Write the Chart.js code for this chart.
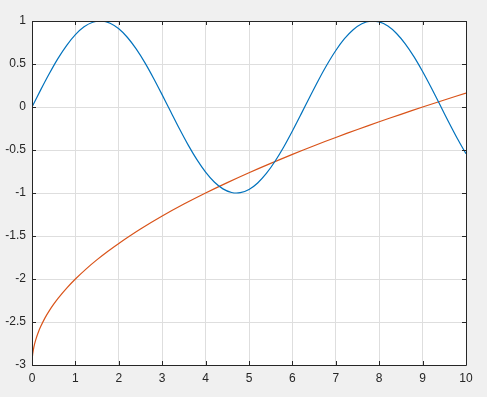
<!DOCTYPE html>
<html>
<head>
<meta charset="utf-8">
<script src="https://cdn.jsdelivr.net/npm/chart.js@4/dist/chart.umd.min.js"></script>
<style>
  html, body { margin: 0; padding: 0; background: #f0f0f0; }
  canvas { display: block; }
</style>
</head>
<body>
<canvas id="plot" width="487" height="397"></canvas>
<script>
// blue curve
let sineX = [0, 0.2, 0.4, 0.6, 0.8, 1.0, 1.2, 1.4, 1.6, 1.8, 2.0, 2.2, 2.4, 2.6, 2.8, 3.0,
  3.2, 3.4, 3.6, 3.8, 4.0, 4.2, 4.4, 4.6, 4.8, 5.0, 5.2, 5.4, 5.6, 5.8, 6.0, 6.2, 6.4,
  6.6, 6.8, 7.0, 7.2, 7.4, 7.6, 7.8, 8.0, 8.2, 8.4, 8.6, 8.8, 9.0, 9.2, 9.4, 9.6, 9.8, 10.0];
let sineY = [0, 0.199, 0.389, 0.565, 0.717, 0.841, 0.932, 0.985, 1.0, 0.974, 0.909, 0.808,
  0.675, 0.516, 0.335, 0.141, -0.058, -0.256, -0.443, -0.612, -0.757, -0.872, -0.952,
  -0.994, -0.996, -0.959, -0.883, -0.773, -0.631, -0.465, -0.279, -0.083, 0.117, 0.312,
  0.494, 0.657, 0.794, 0.899, 0.968, 0.999, 0.989, 0.941, 0.855, 0.734, 0.585, 0.412,
  0.223, 0.025, -0.174, -0.366, -0.544];

// orange curve
let rootX = [0, 0.01, 0.03, 0.06, 0.1, 0.15, 0.2, 0.3, 0.4, 0.5, 0.6, 0.8, 1.0, 1.25, 1.5,
  1.75, 2.0, 2.5, 3.0, 3.5, 4.0, 4.5, 5.0, 5.5, 6.0, 6.5, 7.0, 7.5, 8.0, 8.5, 9.0, 9.5, 10];
let rootY = [-3, -2.9, -2.827, -2.755, -2.684, -2.613, -2.553, -2.452, -2.368, -2.293,
  -2.225, -2.106, -2.0, -1.882, -1.775, -1.677, -1.586, -1.419, -1.268, -1.129, -1.0,
  -0.879, -0.764, -0.655, -0.551, -0.45, -0.354, -0.261, -0.172, -0.085, 0.0, 0.082, 0.162];

let xTicks = [0, 1, 2, 3, 4, 5, 6, 7, 8, 9, 10];
let yTicks = [-3, -2.5, -2, -1.5, -1, -0.5, 0, 0.5, 1];

function pairs(xs, ys) {
  return xs.map((x, i) => ({ x: x, y: ys[i] }));
}

// white axes background, box and inward tick marks like matlab
let axesBox = {
  id: 'axesBox',
  beforeDraw(chart) {
    let c = chart.ctx, a = chart.chartArea;
    c.save();
    c.fillStyle = '#f0f0f0';
    c.fillRect(0, 0, chart.width, chart.height);
    c.fillStyle = '#ffffff';
    c.fillRect(a.left, a.top, a.right - a.left, a.bottom - a.top);
    c.restore();
  },
  afterDraw(chart) {
    let c = chart.ctx, a = chart.chartArea;
    let xs = chart.scales.x, ys = chart.scales.y;
    c.save();
    c.strokeStyle = '#262626';
    c.lineWidth = 1;
    c.beginPath();
    c.rect(Math.round(a.left) + 0.5, Math.round(a.top) + 0.5,
      Math.round(a.right - a.left), Math.round(a.bottom - a.top));
    xTicks.forEach(v => {
      let px = Math.round(xs.getPixelForValue(v)) + 0.5;
      c.moveTo(px, a.bottom); c.lineTo(px, a.bottom - 4);
      c.moveTo(px, a.top); c.lineTo(px, a.top + 4);
    });
    yTicks.forEach(v => {
      let py = Math.round(ys.getPixelForValue(v)) + 0.5;
      c.moveTo(a.left, py); c.lineTo(a.left + 4, py);
      c.moveTo(a.right, py); c.lineTo(a.right - 4, py);
    });
    c.stroke();
    c.restore();
  }
};

let tickFont = { family: 'Liberation Sans, Arial, sans-serif', size: 12 };

new Chart(document.getElementById('plot'), {
  type: 'line',
  data: {
    datasets: [
      { data: pairs(sineX, sineY), borderColor: '#0072bd', borderWidth: 1.2,
        pointRadius: 0, tension: 0.3, fill: false },
      { data: pairs(rootX, rootY), borderColor: '#d95319', borderWidth: 1.2,
        pointRadius: 0, tension: 0.3, fill: false }
    ]
  },
  options: {
    responsive: false,
    animation: false,
    events: [],
    layout: { padding: { top: 21, right: 21, left: 0, bottom: 0 } },
    plugins: { legend: { display: false }, tooltip: { enabled: false } },
    scales: {
      x: {
        type: 'linear', min: 0, max: 10,
        afterFit(s) { s.height = 32; },
        afterBuildTicks(s) { s.ticks = xTicks.map(v => ({ value: v })); },
        ticks: { font: tickFont, color: '#262626', padding: 6, maxRotation: 0,
          callback: v => String(v) },
        grid: { color: '#dedede', drawTicks: false },
        border: { display: false }
      },
      y: {
        type: 'linear', min: -3, max: 1,
        afterFit(s) { s.width = 32; },
        afterBuildTicks(s) { s.ticks = yTicks.map(v => ({ value: v })); },
        ticks: { font: tickFont, color: '#262626', padding: 6,
          callback: v => String(v) },
        grid: { color: '#dedede', drawTicks: false },
        border: { display: false }
      }
    }
  },
  plugins: [axesBox]
});
</script>
</body>
</html>
